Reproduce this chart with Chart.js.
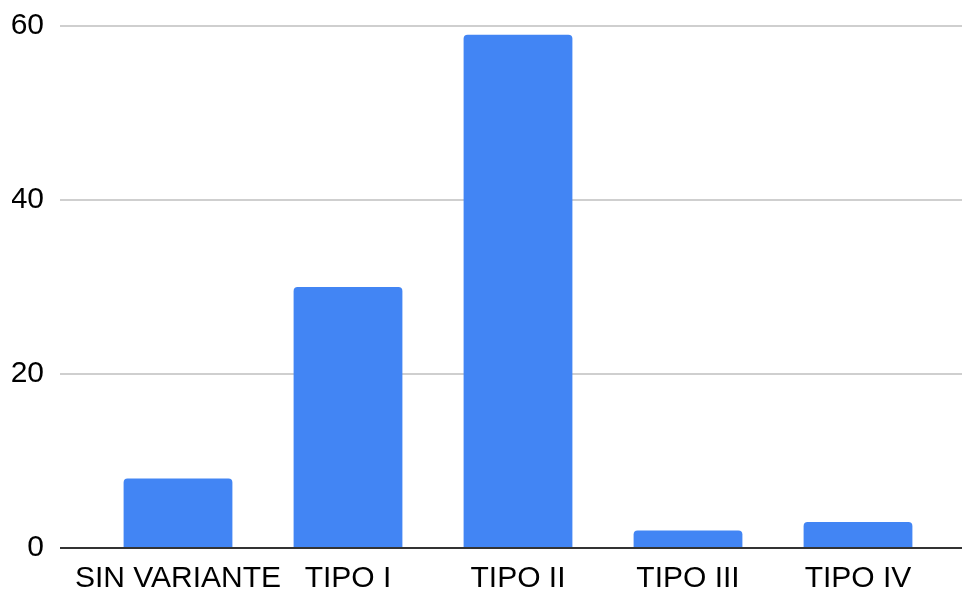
<!DOCTYPE html>
<html>
<head>
<meta charset="utf-8">
<style>
html,body{margin:0;padding:0;background:#fff;}
#wrap{width:962px;height:596px;position:relative;}
</style>
<script src="https://cdn.jsdelivr.net/npm/chart.js@4/dist/chart.umd.min.js"></script>
</head>
<body>
<div id="wrap"><canvas id="c" width="962" height="596"></canvas></div>
<script>
const categories = ["SIN VARIANTE", "TIPO I", "TIPO II", "TIPO III", "TIPO IV"];
const values = [8, 30, 59, 2, 3];
const yTicks = [0, 20, 40, 60];

const gridPlugin = {
  id: 'extGrid',
  beforeDatasetsDraw(chart) {
    const y = chart.scales.y;
    const ctx = chart.ctx;
    ctx.save();
    yTicks.forEach(v => {
      if (v === 0) return;
      const py = Math.round(y.getPixelForValue(v));
      ctx.strokeStyle = '#cfcfcf';
      ctx.lineWidth = 2;
      ctx.beginPath();
      ctx.moveTo(60, py);
      ctx.lineTo(962, py);
      ctx.stroke();
    });
    ctx.restore();
  },
  afterDatasetsDraw(chart) {
    const y = chart.scales.y;
    const ctx = chart.ctx;
    const py = Math.round(y.getPixelForValue(0));
    ctx.save();
    ctx.strokeStyle = '#333333';
    ctx.lineWidth = 2;
    ctx.beginPath();
    ctx.moveTo(60, py);
    ctx.lineTo(962, py);
    ctx.stroke();
    ctx.restore();
  }
};

function zeroPad(axis) {
  axis.paddingLeft = 0; axis.paddingRight = 0;
  axis.paddingTop = 0; axis.paddingBottom = 0;
}

new Chart(document.getElementById('c'), {
  type: 'bar',
  data: {
    labels: categories,
    datasets: [{
      data: values,
      backgroundColor: '#4285F4',
      borderRadius: {topLeft: 4, topRight: 4, bottomLeft: 0, bottomRight: 0},
      borderSkipped: false,
      barPercentage: 0.8,
      categoryPercentage: 0.8
    }]
  },
  options: {
    responsive: false,
    animation: false,
    devicePixelRatio: 1,
    layout: { padding: { left: 12, right: 19, top: 26, bottom: 0 } },
    plugins: { legend: { display: false }, tooltip: { enabled: false } },
    scales: {
      x: {
        grid: { display: false, drawTicks: false },
        border: { display: false },
        afterFit(axis) { axis.height = 48; zeroPad(axis); },
        ticks: {
          color: '#000',
          padding: 13,
          maxRotation: 0,
          minRotation: 0,
          autoSkip: false,
          font: { family: "'Liberation Sans', Arial, sans-serif", size: 30 }
        }
      },
      y: {
        min: 0, max: 60,
        afterBuildTicks(axis) { axis.ticks = yTicks.map(v => ({ value: v })); },
        afterFit(axis) { axis.width = 81; zeroPad(axis); },
        grid: { display: false, drawTicks: false },
        border: { display: false },
        ticks: {
          color: '#000',
          padding: 49,
          font: { family: "'Liberation Sans', Arial, sans-serif", size: 30 }
        }
      }
    }
  },
  plugins: [gridPlugin]
});
</script>
</body>
</html>
